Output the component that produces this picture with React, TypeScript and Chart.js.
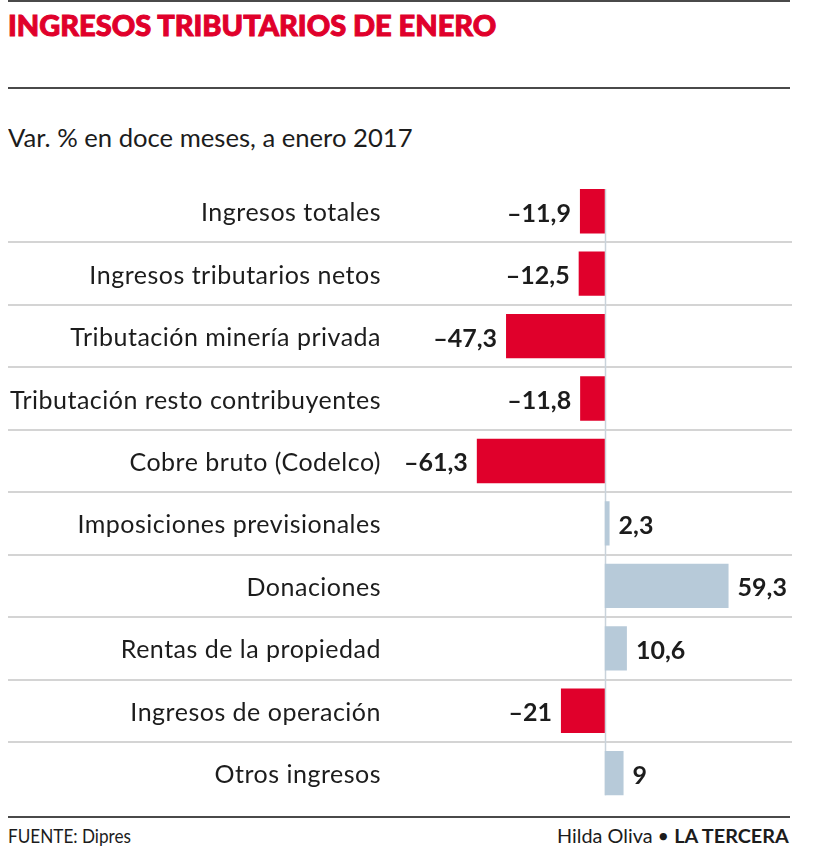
import React, { useEffect, useLayoutEffect, useRef, useState } from "react";
import { Chart, registerables } from "chart.js";

Chart.register(...registerables);

const title = "INGRESOS TRIBUTARIOS DE ENERO";
const subtitle = "Var. % en doce meses, a enero 2017";
const sourceText = "FUENTE: Dipres";
const authorText = "Hilda Oliva";
const brandText = "LA TERCERA";

const categories = [
  "Ingresos totales",
  "Ingresos tributarios netos",
  "Tributación minería privada",
  "Tributación resto contribuyentes",
  "Cobre bruto (Codelco)",
  "Imposiciones previsionales",
  "Donaciones",
  "Rentas de la propiedad",
  "Ingresos de operación",
  "Otros ingresos",
];
const values = [-11.9, -12.5, -47.3, -11.8, -61.3, 2.3, 59.3, 10.6, -21, 9];

const RED = "#e0002b";
const BLUE = "#b7cad9";
const TEXT = "#1c1c1c";
const FONT = "Lato, 'Open Sans', sans-serif";

const fmt = (v: number) => {
  const s = String(Math.abs(v)).replace(".", ",");
  return v < 0 ? "–" + s : s;
};

function FitText({
  width,
  align,
  style,
  children,
}: {
  width: number;
  align: "left" | "right";
  style: React.CSSProperties;
  children: React.ReactNode;
}) {
  const ref = useRef<HTMLSpanElement>(null);
  const [scale, setScale] = useState(1);
  useLayoutEffect(() => {
    if (ref.current) {
      const w = ref.current.offsetWidth;
      if (w > 0) setScale(width / w);
    }
  }, [width]);
  return (
    <div
      style={{
        position: "absolute",
        whiteSpace: "nowrap",
        lineHeight: 1,
        ...style,
      }}
    >
      <span
        ref={ref}
        style={{
          display: "inline-block",
          transform: `scaleX(${scale})`,
          transformOrigin: align === "left" ? "left center" : "right center",
        }}
      >
        {children}
      </span>
    </div>
  );
}

const labelsPlugin = {
  id: "customLabels",
  beforeDatasetsDraw(chart: any) {
    const ctx = chart.ctx;
    const meta = chart.getDatasetMeta(0);
    const xs = chart.scales.x;
    const first = meta.data[0];
    const last = meta.data[meta.data.length - 1];
    const x0 = Math.round(xs.getPixelForValue(0)) + 0.5;
    ctx.save();
    ctx.strokeStyle = "#c9d3db";
    ctx.lineWidth = 1.5;
    ctx.beginPath();
    ctx.moveTo(x0, first.y - first.height / 2);
    ctx.lineTo(x0, last.y + last.height / 2);
    ctx.stroke();
    ctx.restore();
  },
  afterDatasetsDraw(chart: any) {
    const ctx = chart.ctx;
    const ys = chart.scales.y;
    const meta = chart.getDatasetMeta(0);
    ctx.save();
    ctx.fillStyle = TEXT;
    ctx.textBaseline = "alphabetic";
    // category labels
    ctx.font = `400 25px ${FONT}`;
    (ctx as any).letterSpacing = "0.5px";
    ctx.textAlign = "right";
    categories.forEach((c, i) => {
      const y = ys.getPixelForValue(i);
      ctx.fillText(c, 381, y + 10);
    });
    (ctx as any).letterSpacing = "0px";
    // value labels
    ctx.font = `700 25px ${FONT}`;
    meta.data.forEach((el: any, i: number) => {
      const v = values[i];
      if (v < 0) {
        ctx.textAlign = "right";
        ctx.fillText(fmt(v), el.x - 9, el.y + 10.5);
      } else {
        ctx.textAlign = "left";
        ctx.fillText(fmt(v), el.x + 9, el.y + 10.5);
      }
    });
    ctx.restore();
  },
};

function BarChart() {
  const canvasRef = useRef<HTMLCanvasElement>(null);
  useEffect(() => {
    if (!canvasRef.current) return;
    const chart = new Chart(canvasRef.current, {
      type: "bar",
      data: {
        labels: categories,
        datasets: [
          {
            data: values,
            backgroundColor: values.map((v) => (v < 0 ? RED : BLUE)),
            borderWidth: 0,
            categoryPercentage: 1,
            barPercentage: 0.71,
          },
        ],
      },
      options: {
        indexAxis: "y",
        animation: false,
        responsive: false,
        layout: { padding: { left: 8, right: 28, top: 10, bottom: 15.6 } },
        plugins: {
          legend: { display: false },
          tooltip: { enabled: false },
        },
        scales: {
          x: {
            display: false,
            min: -285.9,
            max: 89.7,
          },
          y: {
            display: true,
            ticks: { display: false },
            border: { display: false },
            grid: {
              drawTicks: false,
              offset: true,
              lineWidth: 2,
              color: (c: any) =>
                c.index === undefined || c.index === 0 || c.type !== "tick"
                  ? "rgba(0,0,0,0)"
                  : "#d4d4d4",
            },
            afterFit: (s: any) => {
              s.width = 0;
            },
          },
        },
      },
      plugins: [labelsPlugin],
    });
    return () => chart.destroy();
  }, []);
  return (
    <canvas
      ref={canvasRef}
      width={820}
      height={650}
      style={{ position: "absolute", left: 0, top: 170, display: "block" }}
    />
  );
}

export default function App() {
  const line = (top: number): React.CSSProperties => ({
    position: "absolute",
    left: 8,
    width: 782,
    top,
    height: 2,
    background: "#4a4a4a",
  });
  return (
    <div
      style={{
        position: "absolute",
        left: 0,
        top: 0,
        width: 820,
        height: 852,
        background: "#fff",
        fontFamily: FONT,
        color: TEXT,
        overflow: "hidden",
      }}
    >
      <div style={line(0)} />
      <FitText
        width={488}
        align="left"
        style={{
          left: 8,
          top: 10,
          fontSize: 29,
          fontWeight: 900,
          color: RED,
          WebkitTextStroke: `1px ${RED}`,
        }}
      >
        {title}
      </FitText>
      <div style={line(87)} />
      <FitText width={405} align="left" style={{ left: 8, top: 126, fontSize: 24.5 }}>
        {subtitle}
      </FitText>
      <BarChart />
      <div style={line(816)} />
      <FitText width={123} align="left" style={{ left: 8, top: 826, fontSize: 19.5 }}>
        {sourceText}
      </FitText>
      <FitText width={232} align="right" style={{ right: 31, top: 826, fontSize: 19.5 }}>
        {authorText}
        {" • "}
        <b>{brandText}</b>
      </FitText>
    </div>
  );
}
